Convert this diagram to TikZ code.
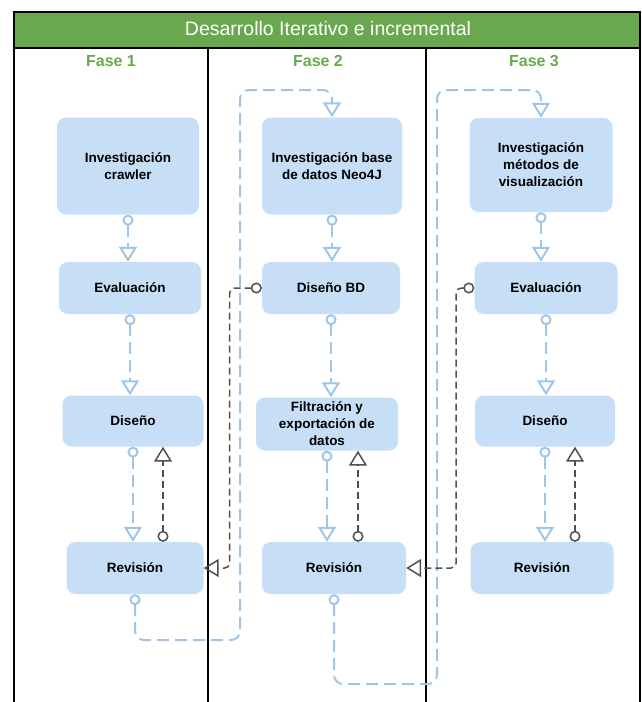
\documentclass[tikz,border=0pt]{standalone}
\usepackage{fontspec}
\setmainfont{Liberation Sans}
\usetikzlibrary{arrows.meta}

\definecolor{barverde}{HTML}{6AA84F}
\definecolor{cajaazul}{HTML}{C6DFF7}
\definecolor{lineaazul}{HTML}{9FC5E8}
\definecolor{lineagris}{HTML}{505050}

\tikzset{
    caja/.style={fill=cajaazul, rounded corners=9pt, align=center, inner sep=0pt,
        font=\fontsize{13.5}{17}\selectfont\bfseries},
    flujo/.style={draw=lineaazul, line width=2pt, dash pattern=on 12pt off 6pt, rounded corners=9pt,
        {Circle[open,length=11pt,width=11pt]}-{Triangle[open,length=15pt,width=18pt]}},
    retorno/.style={draw=lineagris, line width=1.5pt, dash pattern=on 7pt off 4pt, rounded corners=5pt,
        {Circle[open,length=11pt,width=11pt]}-{Triangle[open,length=15pt,width=18pt]}},
    fase/.style={font=\fontsize{16}{18}\selectfont\bfseries, text=barverde}
}

\begin{document}
\begin{tikzpicture}[x=1pt, y={(0,-1pt)}]
        \useasboundingbox (0,0) rectangle (641,702);

        % marco y carriles
        \path[fill=barverde, draw=black, line width=1.5pt] (14,12) rectangle (640,48);
        \path[draw, line width=1.5pt] (14,48) -- (14,702);
        \path[draw, line width=1.5pt] (640,48) -- (640,702);
        \path[draw, line width=1.5pt] (208,48) -- (208,702);
        \path[draw, line width=1.5pt] (426,48) -- (426,702);
        \node[text=white, font=\fontsize{19.5}{22}\selectfont] (titulo) at (328,29) {Desarrollo Iterativo e incremental};

        \node[fase] (fase1) at (111,61) {Fase 1};
        \node[fase] (fase2) at (318,61) {Fase 2};
        \node[fase] (fase3) at (534,61) {Fase 3};

        % fase 1
        \node[caja, minimum width=142, minimum height=97] (inv1) at (128,166) {Investigación\\crawler};
        \node[caja, minimum width=142, minimum height=52] (eva1) at (130,288) {Evaluación};
        \node[caja, minimum width=141, minimum height=51] (dis1) at (133,421) {Diseño};
        \node[caja, minimum width=137, minimum height=52] (rev1) at (135,568) {Revisión};

        % fase 2
        \node[caja, minimum width=140, minimum height=97] (inv2) at (332,166) {Investigación base\\de datos Neo4J};
        \node[caja, minimum width=138, minimum height=52] (dbd2) at (331,288) {Diseño BD};
        \node[caja, minimum width=142, minimum height=53] (fil2) at (327,424) {Filtración y\\exportación de\\datos};
        \node[caja, minimum width=144, minimum height=52] (rev2) at (334,568) {Revisión};

        % fase 3
        \node[caja, minimum width=143, minimum height=94] (inv3) at (541,165) {Investigación\\métodos de\\visualización};
        \node[caja, minimum width=143, minimum height=52] (eva3) at (546,288) {Evaluación};
        \node[caja, minimum width=140, minimum height=51] (dis3) at (545,421) {Diseño};
        \node[caja, minimum width=143, minimum height=52] (rev3) at (542,568) {Revisión};

        \path[flujo] (inv1.south) -- (inv1.south |- eva1.north);
        \path[flujo] (eva1.south) -- (eva1.south |- dis1.north);
        \path[flujo] (dis1.south) -- (dis1.south |- rev1.north);
        \path[retorno] ([xshift=28]rev1.north) -- ([xshift=28]rev1.north |- dis1.south);

        \path[flujo] (inv2.south) -- (inv2.south |- dbd2.north);
        \path[flujo] (dbd2.south) -- (dbd2.south |- fil2.north);
        \path[flujo] (fil2.south) -- (fil2.south |- rev2.north);
        \path[retorno] ([xshift=24]rev2.north) -- ([xshift=24]rev2.north |- fil2.south);

        \path[flujo] (inv3.south) -- (inv3.south |- eva3.north);
        \path[flujo] (eva3.south) -- (eva3.south |- dis3.north);
        \path[flujo] (dis3.south) -- (dis3.south |- rev3.north);
        \path[retorno] ([xshift=33]rev3.north) -- ([xshift=33]rev3.north |- dis3.south);

        % de una fase a la siguiente
        \path[flujo] (rev1.south) |- (240,640) -- (240,90) -| (inv2.north);
        \path[flujo] (rev2.south) |- (437,684) -- (437,90) -| (inv3.north);
        \path[retorno] (dbd2.west) -| ([xshift=26]rev1.east) -- (rev1.east);
        \path[retorno] (eva3.west) -| ([xshift=50]rev2.east) -- (rev2.east);
\end{tikzpicture}
\end{document}
